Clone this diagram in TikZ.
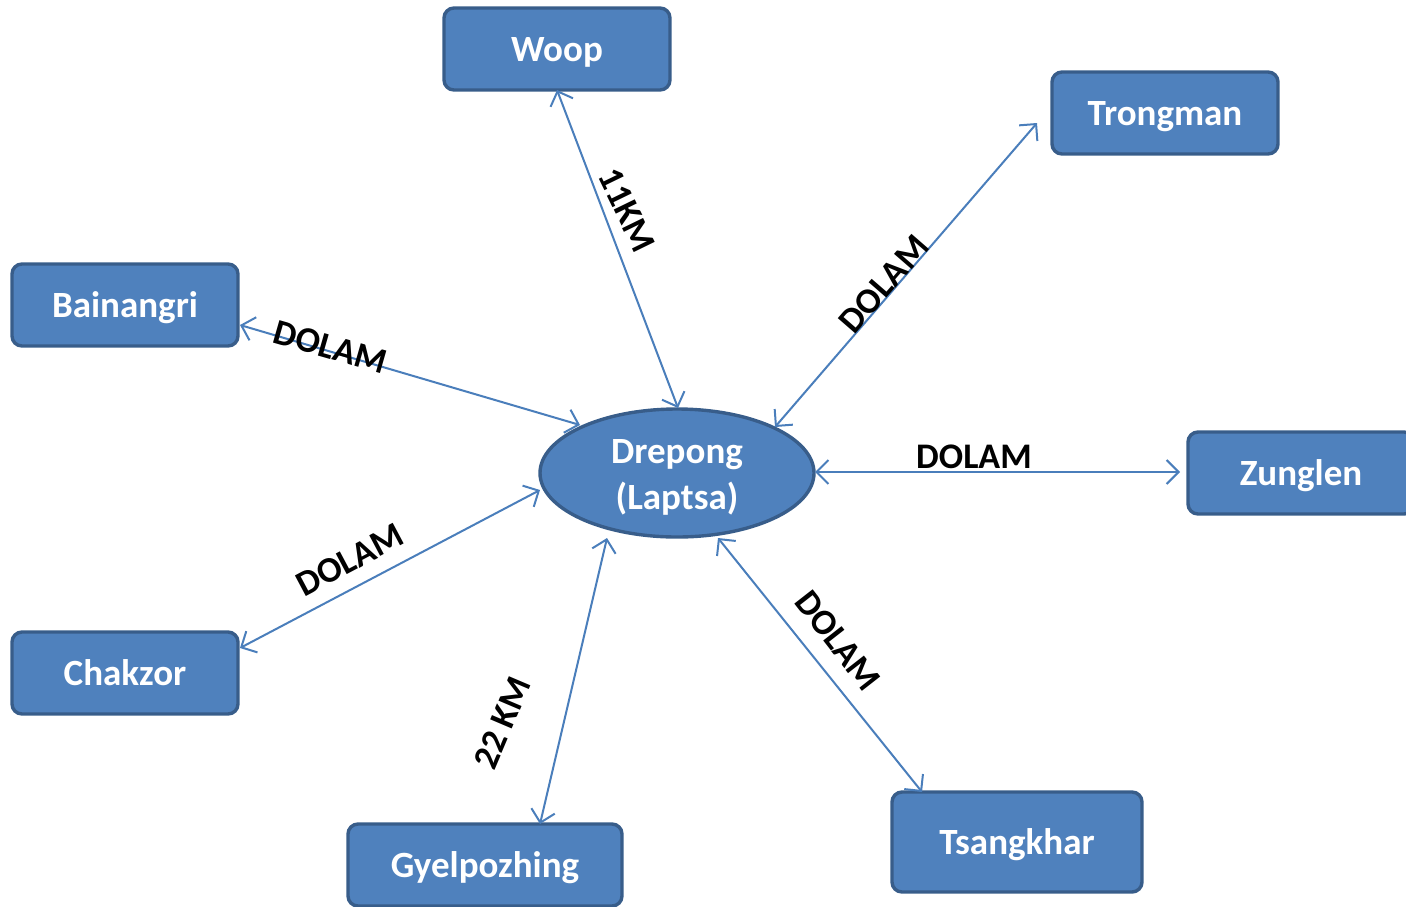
\documentclass[tikz,border=0pt]{standalone}
\usepackage{fontspec}
\setmainfont{Carlito}
\usetikzlibrary{arrows.meta,shapes.geometric}
\definecolor{boxfill}{HTML}{4F81BD}
\definecolor{boxline}{HTML}{385D8A}
\definecolor{arrowc}{HTML}{4A7EBB}
\begin{document}
\begin{tikzpicture}[x=0.5pt,y=-0.5pt,
  place/.style={draw=boxline,fill=boxfill,line width=1.7pt,rounded corners=5pt,
    minimum width=113pt,minimum height=41pt,inner sep=0pt,text=white,
    text height=12pt,text depth=0pt,
    font=\fontsize{18.5}{22}\selectfont\bfseries},
  hub/.style={ellipse,draw=boxline,fill=boxfill,line width=1.7pt,
    minimum width=137pt,minimum height=64pt,inner sep=0pt},
  hubtext/.style={text=white,align=center,inner sep=0pt,
    font=\fontsize{18.5}{22}\selectfont\bfseries},
  link/.style={draw=arrowc,line width=1pt,{Straight Barb[length=6pt,width=12pt]}-{Straight Barb[length=6pt,width=12pt]}},
  lbl/.style={font=\fontsize{18}{21}\selectfont\bfseries,inner sep=0pt}]
\useasboundingbox (0,0) rectangle (1406,906);
\node[place] (woop) at (557,49) {Woop};
\node[place] (trong) at (1165,113) {Trongman};
\node[place] (bain) at (125,305) {Bainangri};
\node[place] (zung) at (1301,473) {Zunglen};
\node[place] (chak) at (125,673) {Chakzor};
\node[place,minimum width=137pt] (gyel) at (485,865) {Gyelpozhing};
\node[place,minimum width=125pt,minimum height=50pt] (tsang) at (1017,842) {Tsangkhar};
\node[hub] (drep) at (677,473) {};
\node[hubtext] (dreptext) at (677,477) {Drepong\\[1pt](Laptsa)};
% arrow end points
\coordinate (wA) at (557,90);   \coordinate (wB) at (678,408);
\coordinate (tA) at (1037,123); \coordinate (tB) at (775,427);
\coordinate (bA) at (240,325);  \coordinate (bB) at (580,425);
\coordinate (zA) at (1180,472); \coordinate (zB) at (815,472);
\coordinate (cA) at (240,648);  \coordinate (cB) at (540,490);
\coordinate (gA) at (540,824);  \coordinate (gB) at (607,538);
\coordinate (sA) at (922,792);  \coordinate (sB) at (718,538);
\draw[link] (wA) -- (wB);
\draw[link] (tA) -- (tB);
\draw[link] (bA) -- (bB);
\draw[link] (zA) -- (zB);
\draw[link] (cA) -- (cB);
\draw[link] (gA) -- (gB);
\draw[link] (sA) -- (sB);
% labels
\node[lbl,rotate=-64] (l1) at (627,210) {11KM};
\node[lbl,rotate=49] (l2) at (884,284) {DOLAM};
\node[lbl,rotate=-16] (l3) at (330,347) {DOLAM};
\node[lbl] (l4) at (974,457) {DOLAM};
\node[lbl,rotate=28] (l5) at (350,560) {DOLAM};
\node[lbl,rotate=67] (l6) at (502,723) {22 KM};
\node[lbl,rotate=-52] (l7) at (838,641) {DOLAM};
\end{tikzpicture}
\end{document}
